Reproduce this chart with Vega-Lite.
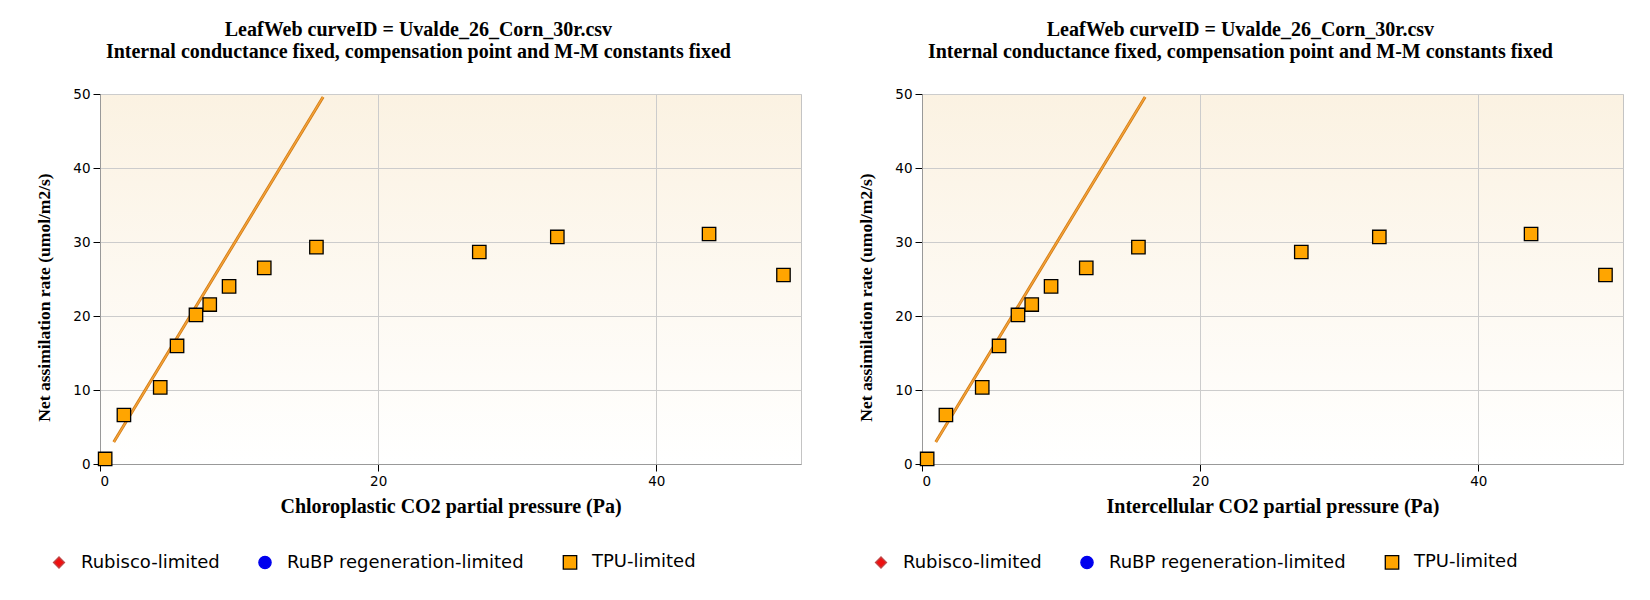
{
  "$schema": "https://vega.github.io/schema/vega-lite/v6.json",
  "description": "LeafWeb A/Ci fit for Uvalde_26_Corn_30r: assimilation against chloroplastic and intercellular CO2.",
  "background": "white",
  "padding": {"left": 35, "top": 19, "right": 10, "bottom": 10},
  "spacing": 55,
  "datasets": {
    "points": [
      {"ci": 0.37, "a": 0.68, "limit": "TPU-limited"},
      {"ci": 1.72, "a": 6.62, "limit": "TPU-limited"},
      {"ci": 4.33, "a": 10.36, "limit": "TPU-limited"},
      {"ci": 5.54, "a": 15.95, "limit": "TPU-limited"},
      {"ci": 6.9, "a": 20.14, "limit": "TPU-limited"},
      {"ci": 7.89, "a": 21.55, "limit": "TPU-limited"},
      {"ci": 9.28, "a": 24.0, "limit": "TPU-limited"},
      {"ci": 11.81, "a": 26.5, "limit": "TPU-limited"},
      {"ci": 15.56, "a": 29.3, "limit": "TPU-limited"},
      {"ci": 27.27, "a": 28.65, "limit": "TPU-limited"},
      {"ci": 32.88, "a": 30.68, "limit": "TPU-limited"},
      {"ci": 43.79, "a": 31.08, "limit": "TPU-limited"},
      {"ci": 49.14, "a": 25.54, "limit": "TPU-limited"}
    ],
    "fit": [
      {"ci": 0.99, "a": 2.97},
      {"ci": 16.04, "a": 49.6}
    ]
  },
  "config": {
    "view": {
      "stroke": "#c4c4c4",
      "fill": {
        "gradient": "linear",
        "x1": 0, "y1": 0, "x2": 0, "y2": 1,
        "stops": [
          {"offset": 0, "color": "#fbf2e2"},
          {"offset": 1, "color": "#ffffff"}
        ]
      }
    },
    "title": {
      "font": "Liberation Serif",
      "fontSize": 20,
      "fontWeight": "bold",
      "color": "black",
      "lineHeight": 22,
      "anchor": "middle",
      "frame": "bounds",
      "offset": 25
    },
    "axis": {
      "labelFont": "DejaVu Sans",
      "labelFontSize": 13.5,
      "labelColor": "black",
      "labelPadding": 3,
      "tickSize": 7,
      "tickColor": "black",
      "domainColor": "#999999",
      "gridColor": "#cccccc",
      "titleFont": "Liberation Serif",
      "titleFontWeight": "bold",
      "titleColor": "black"
    },
    "axisX": {"titlePadding": 9, "titleFontSize": 20},
    "axisY": {"titlePadding": 19, "titleFontSize": 17.5, "titleY": 203},
    "legend": {
      "title": null,
      "labelFont": "DejaVu Sans",
      "labelFontSize": 18,
      "labelColor": "black",
      "labelLimit": 0,
      "labelOffset": 13,
      "columnPadding": 36,
      "symbolStrokeWidth": 1.3
    }
  },
  "resolve": {
    "scale": {"fill": "independent", "stroke": "independent", "shape": "independent", "size": "independent"},
    "legend": {"fill": "independent", "stroke": "independent", "shape": "independent", "size": "independent"}
  },
  "hconcat": [
    {
      "width": 701,
      "height": 370,
      "title": {"text": ["LeafWeb curveID = Uvalde_26_Corn_30r.csv", "Internal conductance fixed, compensation point and M-M constants fixed"]},
      "layer": [
        {
          "data": {"name": "fit"},
          "mark": {"type": "line", "color": "#cf7a12", "strokeWidth": 3},
          "encoding": {
            "x": {"field": "ci", "type": "quantitative", "scale": {"domain": [0, 50.4], "nice": false}, "axis": {"values": [0, 20, 40], "title": "Chloroplastic CO2 partial pressure (Pa)"}},
            "y": {"field": "a", "type": "quantitative", "scale": {"domain": [0, 50], "nice": false}, "axis": {"values": [0, 10, 20, 30, 40, 50], "title": "Net assimilation rate (umol/m2/s)"}}
          }
        },
        {
          "data": {"name": "fit"},
          "mark": {"type": "line", "color": "#f5a23a", "strokeWidth": 1.4},
          "encoding": {
            "x": {"field": "ci", "type": "quantitative"},
            "y": {"field": "a", "type": "quantitative"}
          }
        },
        {
          "data": {"name": "points"},
          "mark": {"type": "point", "filled": true, "strokeWidth": 1.3, "opacity": 1},
          "encoding": {
            "x": {"field": "ci", "type": "quantitative"},
            "y": {"field": "a", "type": "quantitative"},
            "fill": {"field": "limit", "type": "nominal", "scale": {"domain": ["Rubisco-limited", "RuBP regeneration-limited", "TPU-limited"], "range": ["#ee1111", "#0000ee", "#ffa500"]}, "legend": {"orient": "none", "direction": "horizontal", "legendX": -50, "legendY": 459}},
            "stroke": {"field": "limit", "type": "nominal", "scale": {"domain": ["Rubisco-limited", "RuBP regeneration-limited", "TPU-limited"], "range": ["#c04848", "#0000ee", "#000000"]}},
            "shape": {"field": "limit", "type": "nominal", "scale": {"domain": ["Rubisco-limited", "RuBP regeneration-limited", "TPU-limited"], "range": ["diamond", "circle", "square"]}},
            "size": {"field": "limit", "type": "nominal", "scale": {"domain": ["Rubisco-limited", "RuBP regeneration-limited", "TPU-limited"], "range": [121, 180, 196]}}
          }
        }
      ]
    },
    {
      "width": 701,
      "height": 370,
      "title": {"text": ["LeafWeb curveID = Uvalde_26_Corn_30r.csv", "Internal conductance fixed, compensation point and M-M constants fixed"]},
      "layer": [
        {
          "data": {"name": "fit"},
          "mark": {"type": "line", "color": "#cf7a12", "strokeWidth": 3},
          "encoding": {
            "x": {"field": "ci", "type": "quantitative", "scale": {"domain": [0, 50.4], "nice": false}, "axis": {"values": [0, 20, 40], "title": "Intercellular CO2 partial pressure (Pa)"}},
            "y": {"field": "a", "type": "quantitative", "scale": {"domain": [0, 50], "nice": false}, "axis": {"values": [0, 10, 20, 30, 40, 50], "title": "Net assimilation rate (umol/m2/s)"}}
          }
        },
        {
          "data": {"name": "fit"},
          "mark": {"type": "line", "color": "#f5a23a", "strokeWidth": 1.4},
          "encoding": {
            "x": {"field": "ci", "type": "quantitative"},
            "y": {"field": "a", "type": "quantitative"}
          }
        },
        {
          "data": {"name": "points"},
          "mark": {"type": "point", "filled": true, "strokeWidth": 1.3, "opacity": 1},
          "encoding": {
            "x": {"field": "ci", "type": "quantitative"},
            "y": {"field": "a", "type": "quantitative"},
            "fill": {"field": "limit", "type": "nominal", "scale": {"domain": ["Rubisco-limited", "RuBP regeneration-limited", "TPU-limited"], "range": ["#ee1111", "#0000ee", "#ffa500"]}, "legend": {"orient": "none", "direction": "horizontal", "legendX": -50, "legendY": 459}},
            "stroke": {"field": "limit", "type": "nominal", "scale": {"domain": ["Rubisco-limited", "RuBP regeneration-limited", "TPU-limited"], "range": ["#c04848", "#0000ee", "#000000"]}},
            "shape": {"field": "limit", "type": "nominal", "scale": {"domain": ["Rubisco-limited", "RuBP regeneration-limited", "TPU-limited"], "range": ["diamond", "circle", "square"]}},
            "size": {"field": "limit", "type": "nominal", "scale": {"domain": ["Rubisco-limited", "RuBP regeneration-limited", "TPU-limited"], "range": [121, 180, 196]}}
          }
        }
      ]
    }
  ]
}
